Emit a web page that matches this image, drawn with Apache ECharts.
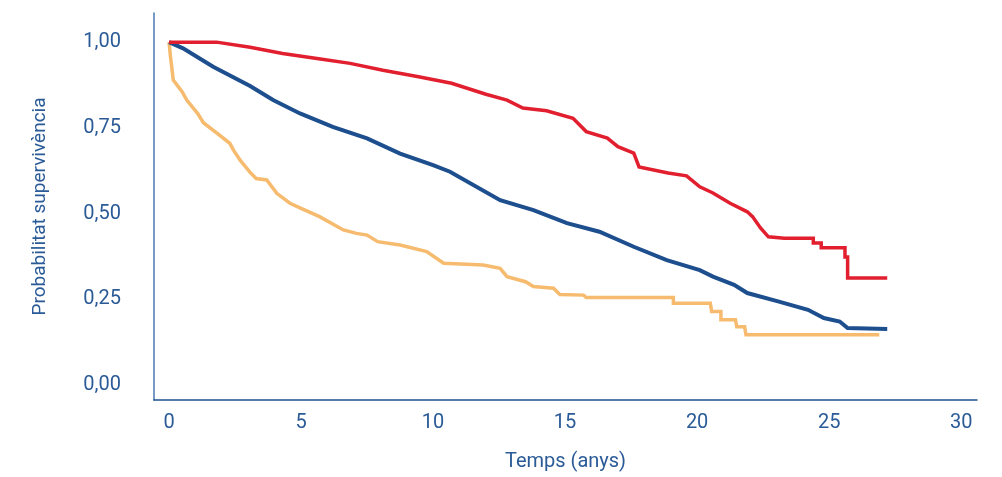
<!DOCTYPE html>
<html>
<head>
<meta charset="utf-8">
<script src="https://cdn.jsdelivr.net/npm/echarts@6/dist/echarts.min.js"></script>
<style>
html,body{margin:0;padding:0;background:#fff;}
#chart{width:1002px;height:477px;}
</style>
</head>
<body>
<div id="chart"></div>
<script>
// Tick labels
const xTicks = [0, 5, 10, 15, 20, 25, 30];
const yTicks = [0, 0.25, 0.5, 0.75, 1.0];

// Survival curves: [time (years), probability]
const redCurve = [[0,1.0],[1.8,1.0],[3.07,0.985],[4.3,0.967],[5.6,0.952],[6.86,0.938],[8.1,0.918],[9.4,0.900],[10.7,0.880],[12.0,0.848],[12.8,0.831],[13.4,0.808],[14.3,0.800],[15.3,0.778],[15.8,0.739],[16.6,0.720],[17.0,0.695],[17.6,0.676],[17.8,0.636],[18.9,0.618],[19.6,0.610],[20.1,0.578],[20.6,0.560],[21.25,0.530],[21.9,0.505],[22.1,0.491],[22.4,0.458],[22.7,0.432],[23.3,0.428],[24.4,0.428],[24.4,0.414],[24.7,0.414],[24.7,0.400],[25.6,0.400],[25.6,0.373],[25.7,0.373],[25.7,0.312],[27.2,0.312]];

const blueCurve = [[0,1.0],[0.53,0.982],[1.67,0.928],[3.07,0.872],[3.94,0.831],[4.96,0.792],[6.2,0.753],[7.5,0.719],[8.75,0.675],[10.0,0.641],[10.64,0.622],[12.54,0.539],[13.8,0.510],[15.07,0.472],[16.3,0.447],[17.6,0.403],[18.85,0.364],[20.1,0.335],[20.6,0.316],[21.4,0.292],[21.9,0.268],[23.1,0.243],[24.2,0.219],[24.8,0.195],[25.4,0.185],[25.7,0.166],[27.2,0.163]];

const orangeCurve = [[0,1.0],[0.05,0.96],[0.1,0.928],[0.16,0.889],[0.5,0.855],[0.67,0.831],[1.1,0.79],[1.3,0.765],[1.8,0.735],[2.3,0.705],[2.44,0.685],[2.7,0.655],[3.07,0.62],[3.3,0.602],[3.7,0.598],[4.08,0.559],[4.58,0.530],[5.0,0.515],[5.7,0.491],[6.6,0.452],[7.1,0.442],[7.5,0.437],[7.9,0.418],[8.75,0.408],[9.76,0.389],[10.4,0.355],[11.9,0.350],[12.54,0.340],[12.8,0.316],[13.5,0.301],[13.8,0.287],[14.56,0.282],[14.8,0.264],[15.7,0.262],[15.8,0.255],[19.1,0.255],[19.1,0.238],[20.5,0.238],[20.55,0.214],[20.9,0.214],[20.9,0.190],[21.45,0.190],[21.5,0.170],[21.8,0.170],[21.85,0.146],[26.9,0.146]];

const labelColor = '#2a5b97';
const fontFamily = 'Roboto, "Noto Sans", sans-serif';

const chart = echarts.init(document.getElementById('chart'), null, {renderer: 'canvas'});
const lineSeries = (data, color, width) => ({
  type: 'line',
  data: data,
  showSymbol: false,
  symbol: 'none',
  smooth: false,
  animation: false,
  lineStyle: {color: color, width: width, join: 'miter', cap: 'butt'},
  z: 3
});

chart.setOption({
  animation: false,
  backgroundColor: '#ffffff',
  grid: {left: 154, right: 25, top: 13, bottom: 77, containLabel: false},
  xAxis: {
    type: 'value',
    min: -0.57,
    max: 30.6,
    name: 'Temps (anys)',
    nameLocation: 'middle',
    nameGap: 52,
    nameTextStyle: {color: labelColor, fontSize: 20, fontFamily: fontFamily},
    axisLine: {show: true, onZero: false, lineStyle: {color: '#1f5093', width: 1.5}},
    axisTick: {show: false},
    splitLine: {show: false},
    axisLabel: {
      customValues: xTicks,
      color: labelColor, fontSize: 20, fontFamily: fontFamily, margin: 13,
      formatter: v => String(v)
    }
  },
  yAxis: {
    type: 'value',
    min: -0.044,
    max: 1.085,
    name: 'Probabilitat supervivència',
    nameLocation: 'middle',
    nameGap: 104,
    nameRotate: 90,
    nameTextStyle: {color: labelColor, fontSize: 19, fontFamily: fontFamily},
    axisLine: {show: true, onZero: false, lineStyle: {color: '#4a78b5', width: 1.5}},
    axisTick: {show: false},
    splitLine: {show: false},
    axisLabel: {
      customValues: yTicks,
      color: labelColor, fontSize: 20, fontFamily: fontFamily, margin: 33,
      formatter: v => v.toFixed(2).replace('.', ',')
    }
  },
  series: [
    lineSeries(orangeCurve, '#f6bb6e', 3.5),
    lineSeries(blueCurve, '#1d4e8d', 4),
    lineSeries(redCurve, '#e11f2e', 3.5)
  ]
});
</script>
</body>
</html>
